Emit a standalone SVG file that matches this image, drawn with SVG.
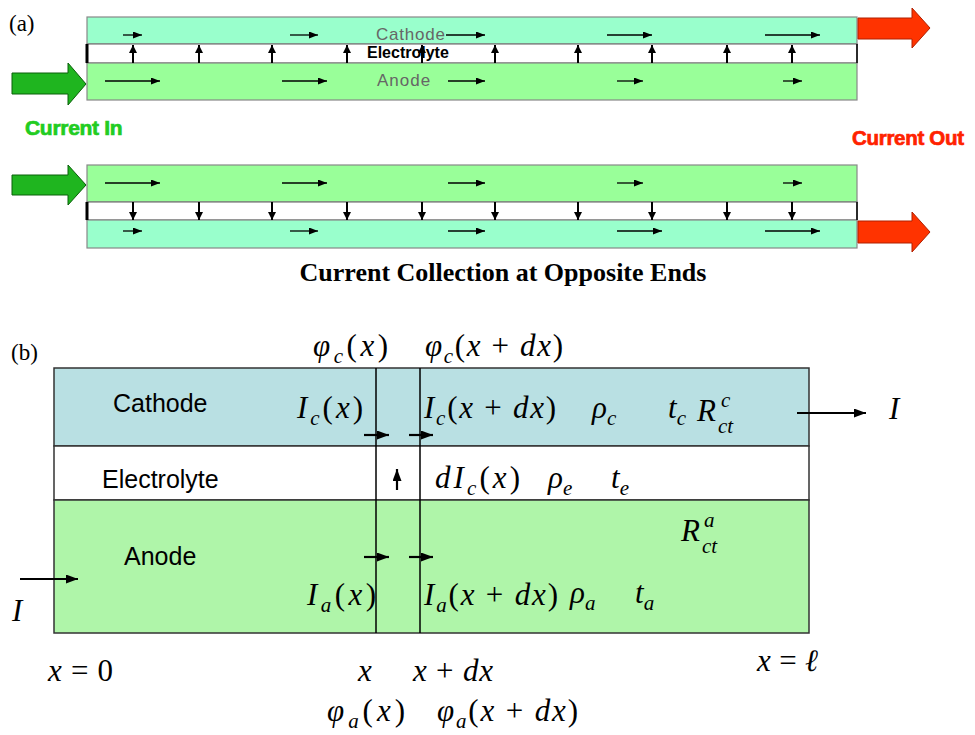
<svg xmlns="http://www.w3.org/2000/svg" width="975" height="735" viewBox="0 0 975 735">
<style>
.lbl{font-family:"Liberation Serif",serif;font-size:23px;fill:#000}
.m{font-family:"Liberation Serif",serif;font-size:31px;fill:#000}
.i{font-style:italic}
.sb{font-style:italic;font-size:21px}
.sans{font-family:"Liberation Sans",Arial,sans-serif;fill:#000}
.mint{fill:#99ffcc;stroke:#888;stroke-width:1.2}
.grn{fill:#99ff99;stroke:#888;stroke-width:1.2}
.ele{fill:#fff;stroke:#777;stroke-width:1.2}
.ha{stroke:#000;stroke-width:1.3;fill:none;marker-end:url(#sa)}
.va{stroke:#000;stroke-width:2;fill:none;marker-end:url(#vah)}
.ba{stroke:#000;stroke-width:2.2;fill:none;marker-end:url(#ba)}
.gin{fill:#1fb51f;stroke:#0a600a;stroke-width:1}
.rout{fill:#ff3300;stroke:#b02000;stroke-width:1}
</style>
<defs>
<marker id="sa" markerUnits="userSpaceOnUse" markerWidth="9" markerHeight="7" refX="9" refY="3.5" orient="auto"><path d="M0,0 L9,3.5 L0,7 z" fill="#000"/></marker>
<marker id="vah" markerUnits="userSpaceOnUse" markerWidth="9" markerHeight="8" refX="8" refY="4" orient="auto"><path d="M0,0 L8,4 L0,8 z" fill="#000"/></marker>
<marker id="ba" markerUnits="userSpaceOnUse" markerWidth="12" markerHeight="9" refX="12" refY="4.5" orient="auto"><path d="M0,0 L12,4.5 L0,9 z" fill="#000"/></marker>
</defs>

<!-- ===== Part (a) ===== -->
<text class="lbl" x="9" y="31">(a)</text>

<g id="a-top-cell">
<rect class="mint" x="87" y="17" width="770" height="27"/>
<rect class="ele" x="87" y="44" width="770" height="19"/>
<rect class="grn" x="87" y="63" width="770" height="37"/>
<line x1="87" y1="44" x2="87" y2="63" stroke="#000" stroke-width="3"/>
<line x1="857" y1="44" x2="857" y2="63" stroke="#000" stroke-width="1.5"/>
<text class="sans" x="376" y="40" font-size="17" style="fill:#666" letter-spacing="0.8">Cathode</text>
<text class="sans" x="367" y="58" font-size="16" font-weight="bold">Electrolyte</text>
<text class="sans" x="377" y="86" font-size="17" style="fill:#666" letter-spacing="1">Anode</text>
</g>

<g id="a-bottom-cell">
<rect class="grn" x="87" y="165" width="770" height="37"/>
<rect class="ele" x="87" y="202" width="770" height="18"/>
<rect class="mint" x="87" y="220" width="770" height="28"/>
<line x1="87" y1="202" x2="87" y2="220" stroke="#000" stroke-width="3"/>
<line x1="857" y1="202" x2="857" y2="220" stroke="#000" stroke-width="1.5"/>
</g>

<g id="a-current-in-top"><polygon class="gin" points="12,73 68,73 68,63 86,84 68,105 68,94 12,94"/></g>
<g id="a-current-out-top"><polygon class="rout" points="858,18 912,18 912,8 930,28 912,48 912,39 858,39"/></g>
<g id="a-current-in-bottom"><polygon class="gin" points="12,175 68,175 68,165 86,185 68,205 68,195 12,195"/></g>
<g id="a-current-out-bottom"><polygon class="rout" points="858,221 912,221 912,212 930,232 912,252 912,243 858,243"/></g>

<g id="a-labels">
<text class="sans" x="25" y="135" font-size="21" font-weight="bold" style="fill:#22cc22;stroke:#22cc22;stroke-width:0.7" letter-spacing="-0.3">Current In</text>
<text class="sans" x="852" y="145" font-size="20.5" font-weight="bold" style="fill:#ff2200;stroke:#ff2200;stroke-width:0.7" letter-spacing="-0.3">Current Out</text>
<text x="503" y="281" text-anchor="middle" font-family="'Liberation Serif',serif" font-weight="bold" font-size="26">Current Collection at Opposite Ends</text>
</g>

<g id="a-connectors">
<line class="ha" x1="123" y1="35" x2="142" y2="35"/>
<line class="ha" x1="290" y1="35" x2="318" y2="35"/>
<line class="ha" x1="446" y1="35" x2="485" y2="35"/>
<line class="ha" x1="607" y1="35" x2="652" y2="35"/>
<line class="ha" x1="765" y1="35" x2="820" y2="35"/>
<line class="ha" x1="105" y1="81" x2="160" y2="81"/>
<line class="ha" x1="282" y1="81" x2="327" y2="81"/>
<line class="ha" x1="448" y1="81" x2="485" y2="81"/>
<line class="ha" x1="617" y1="81" x2="643" y2="81"/>
<line class="ha" x1="783" y1="81" x2="802" y2="81"/>
<line class="va" x1="133" y1="63" x2="133" y2="45"/>
<line class="va" x1="199" y1="63" x2="199" y2="45"/>
<line class="va" x1="272" y1="63" x2="272" y2="45"/>
<line class="va" x1="347" y1="63" x2="347" y2="45"/>
<line class="va" x1="422" y1="63" x2="422" y2="45"/>
<line class="va" x1="495" y1="63" x2="495" y2="45"/>
<line class="va" x1="578" y1="63" x2="578" y2="45"/>
<line class="va" x1="652" y1="63" x2="652" y2="45"/>
<line class="va" x1="727" y1="63" x2="727" y2="45"/>
<line class="va" x1="792" y1="63" x2="792" y2="45"/>
<line class="ha" x1="105" y1="183" x2="160" y2="183"/>
<line class="ha" x1="282" y1="183" x2="327" y2="183"/>
<line class="ha" x1="448" y1="183" x2="485" y2="183"/>
<line class="ha" x1="617" y1="183" x2="643" y2="183"/>
<line class="ha" x1="783" y1="183" x2="802" y2="183"/>
<line class="ha" x1="123" y1="231" x2="142" y2="231"/>
<line class="ha" x1="290" y1="231" x2="318" y2="231"/>
<line class="ha" x1="448" y1="231" x2="485" y2="231"/>
<line class="ha" x1="617" y1="231" x2="662" y2="231"/>
<line class="ha" x1="765" y1="231" x2="820" y2="231"/>
<line class="va" x1="133" y1="202" x2="133" y2="220"/>
<line class="va" x1="199" y1="202" x2="199" y2="220"/>
<line class="va" x1="272" y1="202" x2="272" y2="220"/>
<line class="va" x1="347" y1="202" x2="347" y2="220"/>
<line class="va" x1="422" y1="202" x2="422" y2="220"/>
<line class="va" x1="495" y1="202" x2="495" y2="220"/>
<line class="va" x1="578" y1="202" x2="578" y2="220"/>
<line class="va" x1="652" y1="202" x2="652" y2="220"/>
<line class="va" x1="727" y1="202" x2="727" y2="220"/>
<line class="va" x1="792" y1="202" x2="792" y2="220"/>
</g>

<!-- ===== Part (b) ===== -->
<text class="lbl" x="11" y="360">(b)</text>

<g id="b-cathode">
<rect x="54" y="368" width="755" height="78" fill="#b9e0e3" stroke="#333" stroke-width="1.5"/>
<text class="sans" x="113" y="412" font-size="25">Cathode</text>
</g>
<g id="b-electrolyte">
<rect x="54" y="446" width="755" height="54" fill="#fff" stroke="#333" stroke-width="1.5"/>
<text class="sans" x="102" y="488" font-size="25">Electrolyte</text>
</g>
<g id="b-anode">
<rect x="54" y="500" width="755" height="133" fill="#aff5a9" stroke="#333" stroke-width="1.5"/>
<text class="sans" x="124" y="565" font-size="25">Anode</text>
</g>
<g id="b-slice">
<line x1="376" y1="368" x2="376" y2="633" stroke="#000" stroke-width="1.5"/>
<line x1="420" y1="368" x2="420" y2="633" stroke="#000" stroke-width="1.5"/>
</g>

<g id="b-connectors">
<line class="ba" x1="364" y1="435" x2="389" y2="435"/>
<line class="ba" x1="409" y1="435" x2="433" y2="435"/>
<line class="ba" x1="364" y1="557" x2="389" y2="557"/>
<line class="ba" x1="409" y1="557" x2="433" y2="557"/>
<line class="ba" x1="397" y1="490" x2="397" y2="469"/>
<line class="ba" x1="797" y1="413" x2="866" y2="413"/>
<line class="ba" x1="20" y1="579" x2="78" y2="579"/>
</g>

<g id="b-math">
<text class="m" x="313" y="356" textLength="75" lengthAdjust="spacing"><tspan class="i">φ</tspan><tspan class="sb" dy="7">c</tspan><tspan dy="-7">(</tspan><tspan class="i">x</tspan>)</text>
<text class="m" x="425" y="356" textLength="138" lengthAdjust="spacing"><tspan class="i">φ</tspan><tspan class="sb" dy="7">c</tspan><tspan dy="-7">(</tspan><tspan class="i">x</tspan> + <tspan class="i">dx</tspan>)</text>
<text class="m" x="297" y="418" textLength="66" lengthAdjust="spacing"><tspan class="i">I</tspan><tspan class="sb" dy="7">c</tspan><tspan dy="-7">(</tspan><tspan class="i">x</tspan>)</text>
<text class="m" x="424" y="418" textLength="132" lengthAdjust="spacing"><tspan class="i">I</tspan><tspan class="sb" dy="7">c</tspan><tspan dy="-7">(</tspan><tspan class="i">x</tspan> + <tspan class="i">dx</tspan>)</text>
<text class="m" x="592" y="418"><tspan class="i">ρ</tspan><tspan class="sb" dy="7">c</tspan></text>
<text class="m" x="668" y="418"><tspan class="i">t</tspan><tspan class="sb" dy="7">c</tspan></text>
<text class="m" x="697" y="421"><tspan class="i">R</tspan></text>
<text class="sb" font-family="'Liberation Serif',serif" x="721" y="407">c</text>
<text class="sb" font-family="'Liberation Serif',serif" x="718" y="433">ct</text>
<text class="m" x="889" y="419"><tspan class="i">I</tspan></text>
<text class="m" x="435" y="488" textLength="85" lengthAdjust="spacing"><tspan class="i">dI</tspan><tspan class="sb" dy="7">c</tspan><tspan dy="-7">(</tspan><tspan class="i">x</tspan>)</text>
<text class="m" x="548" y="488"><tspan class="i">ρ</tspan><tspan class="sb" dy="7">e</tspan></text>
<text class="m" x="611" y="488"><tspan class="i">t</tspan><tspan class="sb" dy="7">e</tspan></text>
<text class="m" x="681" y="541"><tspan class="i">R</tspan></text>
<text class="sb" font-family="'Liberation Serif',serif" x="704" y="527">a</text>
<text class="sb" font-family="'Liberation Serif',serif" x="702" y="553">ct</text>
<text class="m" x="307" y="605" textLength="69" lengthAdjust="spacing"><tspan class="i">I</tspan><tspan class="sb" dy="7">a</tspan><tspan dy="-7">(</tspan><tspan class="i">x</tspan>)</text>
<text class="m" x="424" y="605" textLength="134" lengthAdjust="spacing"><tspan class="i">I</tspan><tspan class="sb" dy="7">a</tspan><tspan dy="-7">(</tspan><tspan class="i">x</tspan> + <tspan class="i">dx</tspan>)</text>
<text class="m" x="570" y="603"><tspan class="i">ρ</tspan><tspan class="sb" dy="7">a</tspan></text>
<text class="m" x="635" y="603"><tspan class="i">t</tspan><tspan class="sb" dy="7">a</tspan></text>
<text class="m" x="12" y="621"><tspan class="i">I</tspan></text>
<text class="m" x="48" y="681" textLength="65" lengthAdjust="spacing"><tspan class="i">x</tspan> = 0</text>
<text class="m" x="358" y="681"><tspan class="i">x</tspan></text>
<text class="m" x="413" y="681" textLength="80" lengthAdjust="spacing"><tspan class="i">x</tspan> + <tspan class="i">dx</tspan></text>
<text class="m" x="757" y="671" textLength="61" lengthAdjust="spacing"><tspan class="i">x</tspan> = <tspan class="i">ℓ</tspan></text>
<text class="m" x="327" y="721" textLength="78" lengthAdjust="spacing"><tspan class="i">φ</tspan><tspan class="sb" dy="7">a</tspan><tspan dy="-7">(</tspan><tspan class="i">x</tspan>)</text>
<text class="m" x="437" y="721" textLength="141" lengthAdjust="spacing"><tspan class="i">φ</tspan><tspan class="sb" dy="7">a</tspan><tspan dy="-7">(</tspan><tspan class="i">x</tspan> + <tspan class="i">dx</tspan>)</text>
</g>
</svg>
